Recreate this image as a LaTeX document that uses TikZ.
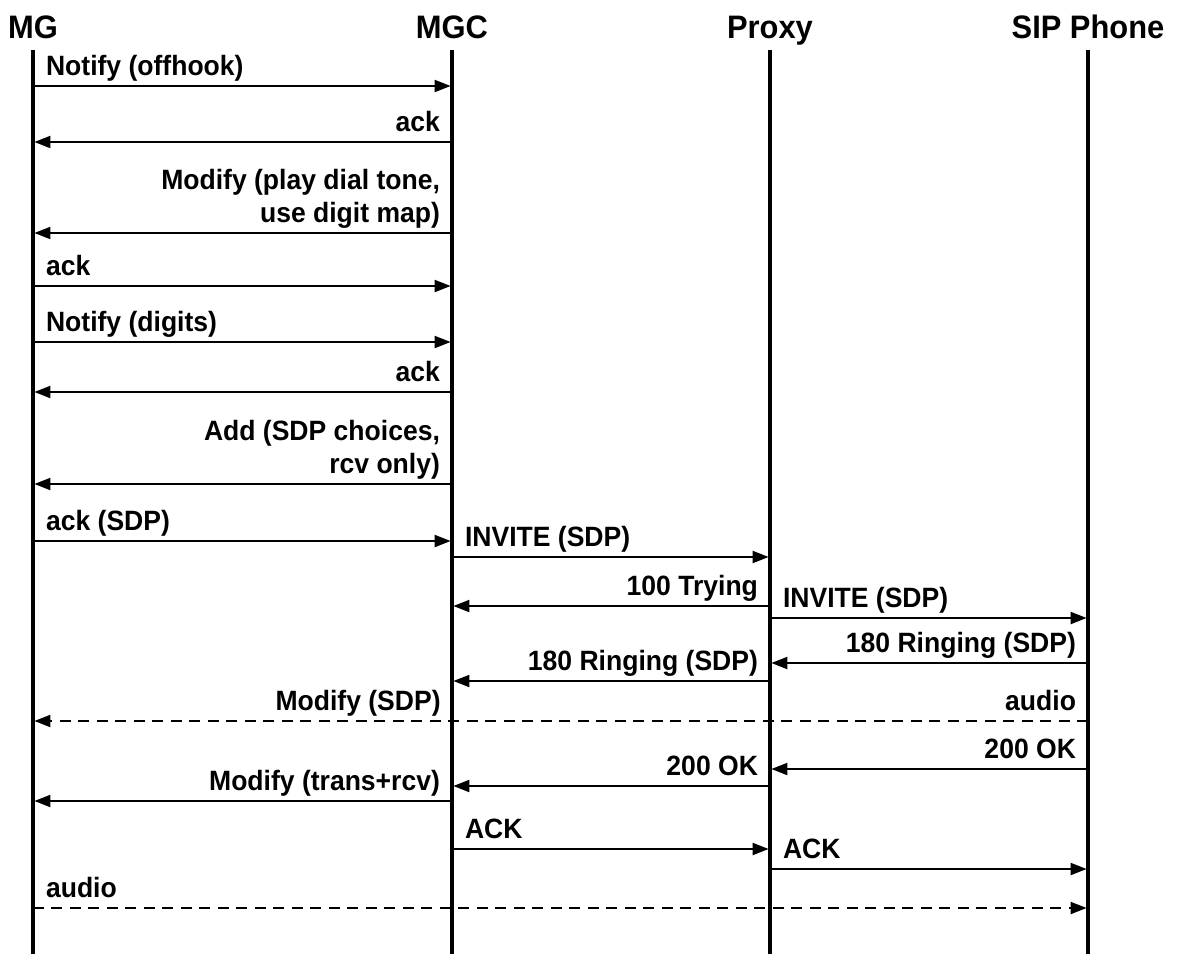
\documentclass[tikz,border=0pt]{standalone}
\usepackage{fontspec}
\setmainfont{Liberation Sans}[FakeStretch=0.95]
\usetikzlibrary{arrows.meta}
\tikzset{head/.style={font=\fontsize{18.5}{20}\selectfont\bfseries,anchor=base,inner sep=0pt},
  life/.style={line width=2.1pt},
  msg/.style={line width=1.2pt,shorten >=0.8pt,-{Triangle[length=0.32cm,width=0.24cm]}},
  audio/.style={msg,dash pattern=on 0.22cm off 0.15cm},
  lbl/.style={font=\fontsize{15.9}{18.7}\selectfont\bfseries,inner sep=0pt,yshift=0.22cm},
  ll/.style={lbl,anchor=base west,xshift=0.24cm},
  lr/.style={lbl,anchor=base east,xshift=-0.22cm,align=right}}

\begin{document}
\begin{tikzpicture}[x=0.02cm,y=-0.02cm]
\useasboundingbox (0,0) rectangle (1181,954);
% lifelines
\node[head] (mg) at (33,38) {MG};
\node[head] (mgc) at (452,38) {MGC};
\node[head] (px) at (770,38) {Proxy};
\node[head] (sip) at (1088,38) {SIP Phone};
\foreach \n in {mg,mgc,px,sip}{ \draw[life] (\n.base |- 0,50) -- (\n.base |- 0,954); }
% MG <-> MGC
\draw[msg] (mg.base |- 0,86) -- (mgc.base |- 0,86) node[pos=0,ll] (m1) {Notify (offhook)};
\draw[msg] (mgc.base |- 0,142) -- (mg.base |- 0,142) node[pos=0,lr] (m2) {ack};
\draw[msg] (mgc.base |- 0,233) -- (mg.base |- 0,233) node[pos=0,lr] (m3) {Modify (play dial tone,\\use digit map)};
\draw[msg] (mg.base |- 0,286) -- (mgc.base |- 0,286) node[pos=0,ll] (m4) {ack};
\draw[msg] (mg.base |- 0,342) -- (mgc.base |- 0,342) node[pos=0,ll] (m5) {Notify (digits)};
\draw[msg] (mgc.base |- 0,392) -- (mg.base |- 0,392) node[pos=0,lr] (m6) {ack};
\draw[msg] (mgc.base |- 0,484) -- (mg.base |- 0,484) node[pos=0,lr] (m7) {Add (SDP choices,\\rcv only)};
\draw[msg] (mg.base |- 0,541) -- (mgc.base |- 0,541) node[pos=0,ll] (m8) {ack (SDP)};
% call setup
\draw[msg] (mgc.base |- 0,557) -- (px.base |- 0,557) node[pos=0,ll] (m9) {INVITE (SDP)};
\draw[msg] (px.base |- 0,606) -- (mgc.base |- 0,606) node[pos=0,lr] (m10) {100 Trying};
\draw[msg] (px.base |- 0,618) -- (sip.base |- 0,618) node[pos=0,ll] (m11) {INVITE (SDP)};
\draw[msg] (sip.base |- 0,663) -- (px.base |- 0,663) node[pos=0,lr] (m12) {180 Ringing (SDP)};
\draw[msg] (px.base |- 0,681) -- (mgc.base |- 0,681) node[pos=0,lr] (m13) {180 Ringing (SDP)};
\draw[audio] (sip.base |- 0,721) -- (mg.base |- 0,721) node[pos=0,lr] (m14) {audio};
\node[lr] (m15) at (mgc.base |- 0,721) {Modify (SDP)};
\draw[msg] (sip.base |- 0,769) -- (px.base |- 0,769) node[pos=0,lr] (m16) {200 OK};
\draw[msg] (px.base |- 0,786) -- (mgc.base |- 0,786) node[pos=0,lr] (m17) {200 OK};
\draw[msg] (mgc.base |- 0,801) -- (mg.base |- 0,801) node[pos=0,lr] (m18) {Modify (trans+rcv)};
\draw[msg] (mgc.base |- 0,849) -- (px.base |- 0,849) node[pos=0,ll] (m19) {ACK};
\draw[msg] (px.base |- 0,869) -- (sip.base |- 0,869) node[pos=0,ll] (m20) {ACK};
\draw[audio] (mg.base |- 0,908) -- (sip.base |- 0,908) node[pos=0,ll] (m21) {audio};
\end{tikzpicture}
\end{document}
